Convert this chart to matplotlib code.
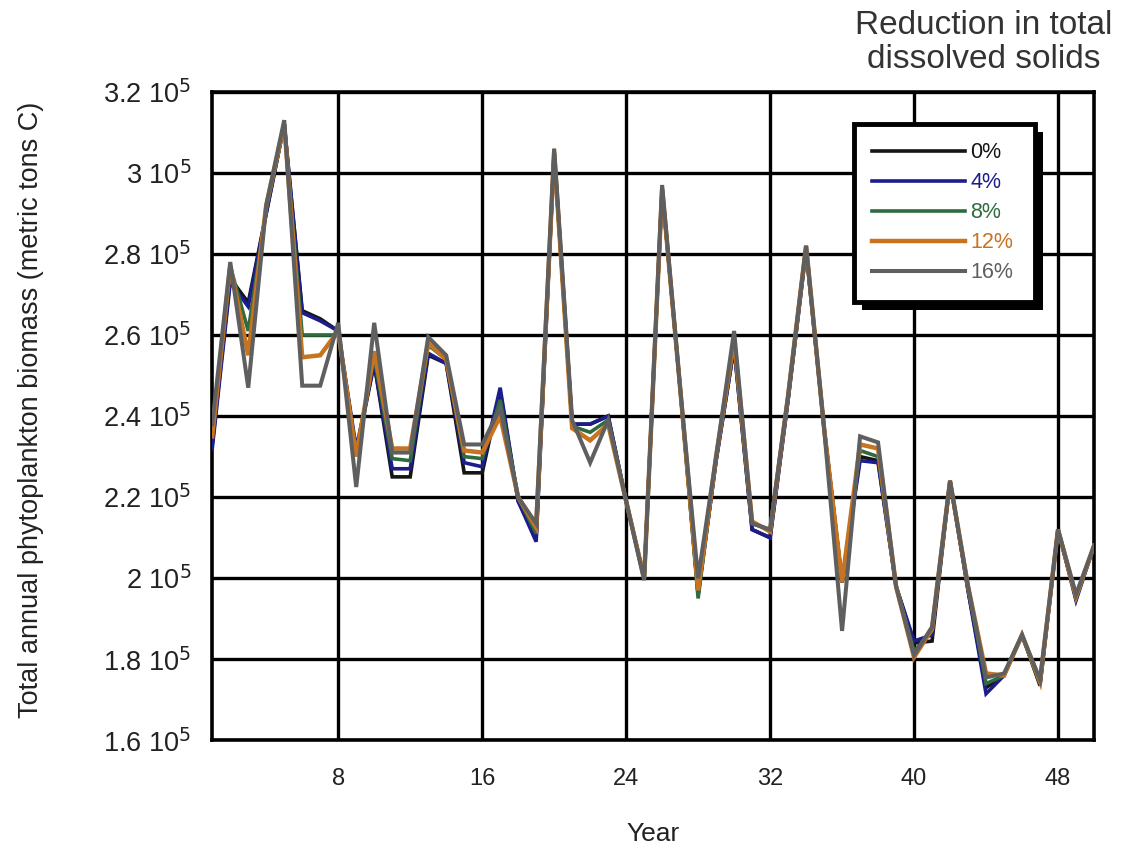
import matplotlib
matplotlib.use("Agg")
import matplotlib.pyplot as plt
import numpy as np
from matplotlib.patches import Rectangle
from matplotlib.ticker import FixedLocator, FuncFormatter

plt.rcParams['font.family'] = ['Liberation Sans', 'DejaVu Sans']

years = np.arange(1, 51)

# total annual phytoplankton biomass, units of 10^5 metric tons C
biomass_0 = [2.33, 2.74, 2.68, 2.90, 3.12, 2.66, 2.64, 2.61, 2.31, 2.53,
             2.25, 2.25, 2.55, 2.53, 2.26, 2.26, 2.46, 2.19, 2.10, 3.05,
             2.38, 2.38, 2.40, 2.19, 2.00, 2.96, 2.47, 1.96, 2.29, 2.57,
             2.12, 2.10, 2.44, 2.81, 2.37, 1.99, 2.30, 2.29, 1.98, 1.84,
             1.845, 2.24, 1.97, 1.73, 1.76, 1.86, 1.735, 2.12, 1.95, 2.08]
biomass_4 = [2.32, 2.73, 2.67, 2.90, 3.12, 2.655, 2.635, 2.61, 2.32, 2.53,
             2.27, 2.27, 2.555, 2.53, 2.285, 2.275, 2.47, 2.19, 2.09, 3.05,
             2.38, 2.38, 2.40, 2.19, 2.00, 2.96, 2.47, 1.96, 2.29, 2.57,
             2.12, 2.10, 2.44, 2.81, 2.37, 1.99, 2.29, 2.285, 1.98, 1.845,
             1.86, 2.24, 1.97, 1.715, 1.76, 1.86, 1.74, 2.12, 1.945, 2.08]
biomass_8 = [2.36, 2.77, 2.61, 2.91, 3.12, 2.60, 2.60, 2.60, 2.31, 2.545,
             2.295, 2.29, 2.575, 2.54, 2.30, 2.295, 2.44, 2.20, 2.11, 3.05,
             2.375, 2.36, 2.39, 2.19, 2.00, 2.96, 2.47, 1.95, 2.30, 2.58,
             2.135, 2.12, 2.45, 2.82, 2.37, 1.99, 2.315, 2.30, 1.98, 1.82,
             1.87, 2.24, 1.98, 1.74, 1.76, 1.86, 1.74, 2.12, 1.95, 2.08]
biomass_12 = [2.35, 2.77, 2.55, 2.92, 3.12, 2.545, 2.55, 2.61, 2.30, 2.56,
              2.32, 2.32, 2.58, 2.54, 2.315, 2.31, 2.40, 2.20, 2.125, 3.05,
              2.37, 2.34, 2.38, 2.19, 2.00, 2.96, 2.47, 1.97, 2.30, 2.59,
              2.14, 2.115, 2.45, 2.82, 2.37, 1.99, 2.33, 2.32, 1.98, 1.805,
              1.875, 2.24, 1.98, 1.765, 1.76, 1.86, 1.745, 2.12, 1.955, 2.08]
biomass_16 = [2.38, 2.78, 2.47, 2.92, 3.13, 2.475, 2.475, 2.63, 2.225, 2.63,
              2.31, 2.31, 2.595, 2.55, 2.33, 2.33, 2.42, 2.20, 2.135, 3.06,
              2.39, 2.285, 2.39, 2.19, 1.995, 2.97, 2.47, 2.00, 2.30, 2.61,
              2.135, 2.12, 2.45, 2.82, 2.37, 1.87, 2.35, 2.335, 1.98, 1.81,
              1.88, 2.24, 1.98, 1.755, 1.765, 1.86, 1.75, 2.12, 1.96, 2.08]

series = [biomass_0, biomass_4, biomass_8, biomass_12, biomass_16]
labels = ['0%', '4%', '8%', '12%', '16%']
colors = ['#151515', '#1c1c8c', '#2f6b3f', '#c8731f', '#5f5f5f']
widths = [2.6, 2.6, 2.6, 3.2, 2.9]

year_ticks = [8, 16, 24, 32, 40, 48]
biomass_ticks = [1.6, 1.8, 2.0, 2.2, 2.4, 2.6, 2.8, 3.0, 3.2]

fig = plt.figure(figsize=(11.29, 8.5), dpi=100)
ax = fig.add_axes([0.188, 0.129, 0.781, 0.763])

for vals, lab, col, lw in zip(series, labels, colors, widths):
    ax.plot(years, np.array(vals) * 1e5, color=col, lw=lw, label=lab,
            solid_joinstyle='miter', zorder=3)

ax.set_xlim(1, 50)
ax.set_ylim(1.6e5, 3.2e5)
ax.xaxis.set_major_locator(FixedLocator(year_ticks))
ax.yaxis.set_major_locator(FixedLocator([v * 1e5 for v in biomass_ticks]))
ax.yaxis.set_major_formatter(FuncFormatter(lambda v, p: '%g 10$^5$' % round(v / 1e5, 1)))

ax.grid(True, color='black', lw=2.4)
ax.set_axisbelow(True)
for sp in ax.spines.values():
    sp.set_linewidth(2.6)
ax.tick_params(axis='both', length=0, colors='#222222')
ax.tick_params(axis='y', labelsize=19.5, pad=15)
ax.tick_params(axis='x', labelsize=17, pad=20)

ax.set_xlabel('Year', fontsize=19, color='#222222', va='center')
ax.xaxis.set_label_coords(0.5, -0.145)
ax.set_ylabel('Total annual phytoplankton biomass (metric tons C)',
              fontsize=19.5, color='#222222', va='center')
ax.yaxis.set_label_coords(-0.205, 0.51)

fig.text(0.871, 0.988, 'Reduction in total\ndissolved solids', ha='center', va='top',
         fontsize=24, color='#333333', linespacing=1.12)

# legend box spans a fixed width; entries stay at its left side
leg = ax.legend(loc='upper left', bbox_to_anchor=(0.7564, 0.7, 0.1603, 0.1541),
                bbox_transform=fig.transFigure, mode='expand', fontsize=15.5,
                handlelength=4.3, handletextpad=0.25, labelspacing=0.42,
                borderpad=0.85, borderaxespad=0, fancybox=False, framealpha=1,
                edgecolor='black')
leg.get_frame().set_linewidth(3.5)
leg.set_zorder(6)
for txt, col in zip(leg.get_texts(), colors):
    txt.set_color(col)

# heavy drop shadow under the legend box
fig.canvas.draw()
bb = leg.get_window_extent().transformed(ax.transAxes.inverted())
dx = 8 / ax.bbox.width
dy = 8 / ax.bbox.height
ax.add_patch(Rectangle((bb.x0 + dx, bb.y0 - dy), bb.width, bb.height,
                       transform=ax.transAxes, facecolor='black', edgecolor='none',
                       zorder=5.5, clip_on=False))

fig.savefig('out.png', dpi=100)
